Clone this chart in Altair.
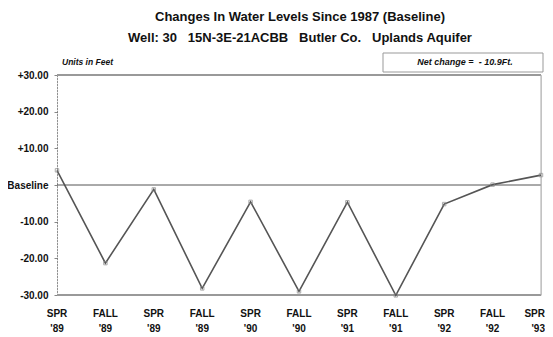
import altair as alt
import pandas as pd

seasons = ["SPR", "FALL", "SPR", "FALL", "SPR", "FALL", "SPR", "FALL", "SPR", "FALL", "SPR"]
years = ["'89", "'89", "'89", "'89", "'90", "'90", "'91", "'91", "'92", "'92", "'93"]
change = [4.0, -21.3, -1.2, -28.2, -4.6, -29.0, -4.7, -30.1, -5.2, 0.1, 2.7]
ytick_values = [-30, -20, -10, 0, 10, 20, 30]

NB = "\u00a0"
title_lines = ["Changes In Water Levels Since 1987 (Baseline)",
               f"Well: 30{NB*3}15N-3E-21ACBB{NB*3}Butler Co.{NB*3}Uplands Aquifer"]
units_text = "Units in Feet"
net_text = f"Net change ={NB*2}- 10.9Ft."

W, H = 484, 220
FONT = "Liberation Sans"
LAST = len(change) - 1

df = pd.DataFrame({
    "i": list(range(len(change))),
    "change": change,
    "label": [s + "\n" + y for s, y in zip(seasons, years)],
})
one = pd.DataFrame({"a": [0]})

xs = alt.Scale(domain=[0, LAST], nice=False, zero=False)
ys = alt.Scale(domain=[-30, 30], nice=False)

yaxis = alt.Axis(
    values=ytick_values,
    labelExpr="datum.value == 0 ? 'Baseline' : (datum.value > 0 ? '+' : '-') + format(abs(datum.value), '.2f')",
    labelFont=FONT, labelFontWeight="bold", labelFontSize=10, labelColor="#111",
    labelOverlap=False, labelPadding=6, tickSize=3, tickColor="#888", domainColor="#444",
    domainDash=[1, 2], domainWidth=1, grid=False, title=None)

base = alt.Chart(df)

line = base.mark_line(color="#555555", strokeWidth=1.6).encode(
    x=alt.X("i:Q", scale=xs, axis=None),
    y=alt.Y("change:Q", scale=ys, axis=yaxis),
)
pts = base.mark_point(shape="square", size=12, color="#888", filled=False, strokeWidth=1).encode(
    x=alt.X("i:Q", scale=xs, axis=None), y=alt.Y("change:Q", scale=ys, axis=yaxis))

xlabels = base.transform_filter(f"datum.i < {LAST}").mark_text(
    font=FONT, fontWeight="bold", fontSize=10, color="#111",
    lineBreak="\n", lineHeight=15, baseline="middle").encode(
    x=alt.X("i:Q", scale=xs, axis=None), y=alt.value(H + 19), text="label:N")
xlabel_last = base.transform_filter(f"datum.i == {LAST}").mark_text(
    font=FONT, fontWeight="bold", fontSize=10, color="#111", align="right", dx=4,
    lineBreak="\n", lineHeight=15, baseline="middle").encode(
    x=alt.X("i:Q", scale=xs, axis=None), y=alt.value(H + 19), text="label:N")

frame = alt.Chart(one)
zero_rule = frame.mark_rule(color="#555", strokeWidth=1).encode(
    x=alt.value(0), x2=alt.value(W), y=alt.value(H / 2))
top_rule = frame.mark_rule(color="#999", strokeWidth=2).encode(
    x=alt.value(0), x2=alt.value(W), y=alt.value(0))
bottom_rule = frame.mark_rule(color="#999", strokeWidth=2).encode(
    x=alt.value(0), x2=alt.value(W), y=alt.value(H))
right_rule = frame.mark_rule(color="#aaa", strokeWidth=1).encode(
    x=alt.value(W), y=alt.value(0), y2=alt.value(H))

t1 = frame.mark_text(font=FONT, fontWeight="bold", fontSize=13, color="#111").encode(
    x=alt.value(243), y=alt.value(-58), text=alt.value(title_lines[0]))
t2 = frame.mark_text(font=FONT, fontWeight="bold", fontSize=13, color="#111").encode(
    x=alt.value(243), y=alt.value(-37), text=alt.value(title_lines[1]))
units = frame.mark_text(font=FONT, fontWeight="bold", fontStyle="italic", fontSize=8.5,
                        color="#111", align="left").encode(
    x=alt.value(5), y=alt.value(-13), text=alt.value(units_text))
box = frame.mark_rect(fill="white", stroke="#999", strokeWidth=1).encode(
    x=alt.value(326), x2=alt.value(486), y=alt.value(-22), y2=alt.value(-3))
net = frame.mark_text(font=FONT, fontWeight="bold", fontStyle="italic", fontSize=9,
                      color="#111").encode(
    x=alt.value(408), y=alt.value(-13), text=alt.value(net_text))

chart = alt.layer(zero_rule, top_rule, bottom_rule, right_rule, line, pts, xlabels, xlabel_last,
                  t1, t2, units, box, net).properties(
    width=W, height=H,
    autosize=alt.AutoSizeParams(type="none"),
    padding={"left": 49, "top": 67, "right": 4, "bottom": 38},
).configure_view(stroke=None).configure_axis(labelOverlap=False).configure(background="white")

chart.save("out.html", embed_options={"renderer": "svg", "actions": False})
